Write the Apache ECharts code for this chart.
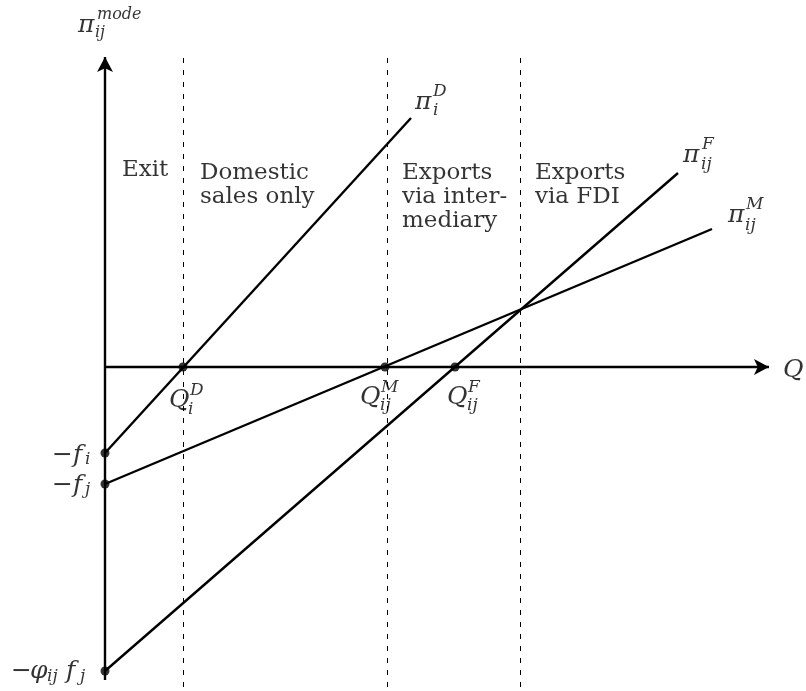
<!DOCTYPE html>
<html style="height: 100%">
<head>
<meta charset="utf-8">
<script src="https://cdn.jsdelivr.net/npm/echarts@6/dist/echarts.min.js"></script>
</head>
<body style="height: 100%; margin: 0; background: #fff">
<div id="container" style="width: 806px; height: 691px"></div>
<script type="text/javascript">
// intercepts on the profit axis (negative fixed costs)
var fI = 8.6, fJ = 11.7, phiFJ = 30.4;
// zero-profit cutoffs on the Q axis
var qD = 7.8, qM = 28.0, qF = 35.0;
// profit lines: start at intercept, end point
var lineD = [[0, -fI], [30.6, 24.9]];
var lineM = [[0, -fJ], [60.7, 13.8]];
var lineF = [[0, -phiFJ], [57.3, 19.4]];
// dashed thresholds between regimes
var thresholds = [7.8, 28.2, 41.5];
var regionNames = ['Exit', 'Domestic\nsales only', 'Exports\nvia inter-\nmediary', 'Exports\nvia FDI'];

var dom = document.getElementById('container');
var myChart = echarts.init(dom, null, { renderer: 'canvas' });

var serif = 'DejaVu Serif';

// region text, placed by data coordinate (top-left)
var regionAnchors = [[1.7, 20.9], [9.5, 20.6], [29.7, 20.6], [43.0, 20.6]];
var regionData = regionNames.map(function (t, i) {
    return { value: regionAnchors[i], label: { formatter: t } };
});

// math labels: anchor + pieces [text, dx, dy, size]
function tex(anchor, parts) {
    return parts.map(function (p) {
        return {
            value: anchor,
            label: {
                formatter: p[0], offset: [p[1], p[2]], fontSize: p[3] || 25,
                color: '#000', fontFamily: serif, fontStyle: 'italic'
            }
        };
    });
}
var mathData = [].concat(
    tex([-2.7, 34.2], [['π', 0, 0], ['mode', 19, -10, 16], ['ij', 17, 8, 16]]),
    tex([31.0, 26.5], [['π', 0, 0], ['D', 18, -10, 17], ['i', 18, 9, 17]]),
    tex([57.8, 21.2], [['π', 0, 0], ['F', 19, -10, 17], ['ij', 18, 10, 17]]),
    tex([62.3, 15.2], [['π', 0, 0], ['M', 18, -10, 17], ['ij', 17, 11, 17]]),
    tex([6.4, -3.3], [['Q', 0, 0], ['D', 21, -9, 17], ['i', 19, 10, 17]]),
    tex([25.5, -3.0], [['Q', 0, 0], ['M', 21, -9, 17], ['ij', 20, 9, 17]]),
    tex([34.2, -3.0], [['Q', 0, 0], ['F', 21, -9, 17], ['ij', 20, 9, 17]]),
    tex([67.8, -0.3], [['Q', 0, 0]]),
    tex([-5.3, -fI - 0.2], [['−f', 0, 0], ['i', 33, 5, 17]]),
    tex([-5.3, -fJ - 0.1], [['−f', 0, 0], ['j', 33, 5, 17]]),
    tex([-9.4, -phiFJ], [['−', 0, 0], ['φ', 19, 0], ['ij', 36, 6, 17], ['f', 55, 0], ['j', 69, 6, 17]])
);

var dots = [[0, -fI], [0, -fJ], [0, -phiFJ], [qD, 0], [qM, 0], [qF, 0]];

function profitLine(d) {
    return {
        type: 'line', data: d, symbol: 'none', silent: true,
        lineStyle: { color: '#000', width: 2.4 }
    };
}

var option = {
    animation: false,
    grid: { left: 0, right: 0, top: 0, bottom: 0 },
    xAxis: { type: 'value', min: -10.5, max: 70.1, show: false },
    yAxis: { type: 'value', min: -32.4, max: 36.7, show: false },
    series: [
        {
            // axes and regime thresholds
            type: 'line', data: [], silent: true,
            markLine: {
                silent: true,
                symbol: 'none',
                label: { show: false },
                data: thresholds.map(function (x) {
                    return [{ coord: [x, 30.9] }, { coord: [x, -32.4] }];
                }).concat([
                    [{ coord: [0, -31.3], lineStyle: { type: 'solid', width: 2.4 } },
                     { coord: [0, 31.0], symbol: 'arrow', symbolSize: [12, 15] }],
                    [{ coord: [0, 0], lineStyle: { type: 'solid', width: 2.4 } },
                     { coord: [66.4, 0], symbol: 'arrow', symbolSize: [12, 15] }]
                ]),
                lineStyle: { color: '#000', width: 1, type: [5, 7] }
            }
        },
        profitLine(lineD),
        profitLine(lineM),
        profitLine(lineF),
        {
            type: 'scatter', data: dots, symbolSize: 9, silent: true,
            itemStyle: { color: '#000' }, z: 5
        },
        {
            type: 'scatter', data: regionData, symbolSize: 0, silent: true,
            itemStyle: { color: 'rgba(0,0,0,0)' },
            label: {
                show: true, position: [0, 0], align: 'left', verticalAlign: 'top',
                color: '#000', fontFamily: serif, fontSize: 23, lineHeight: 24
            }
        },
        {
            type: 'scatter', data: mathData, symbolSize: 0, silent: true,
            itemStyle: { color: 'rgba(0,0,0,0)' },
            label: {
                show: true, position: [0, 0], align: 'left', verticalAlign: 'middle',
                color: '#000', fontFamily: serif, fontStyle: 'italic'
            }
        }
    ]
};

myChart.setOption(option);
</script>
</body>
</html>
